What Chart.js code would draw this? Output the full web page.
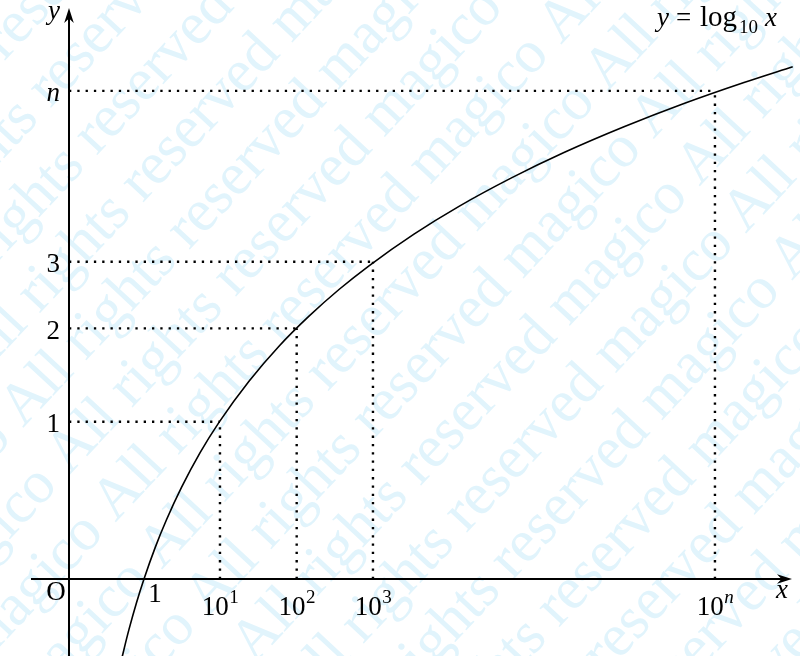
<!DOCTYPE html>
<html><head><meta charset="utf-8">
<script src="https://cdn.jsdelivr.net/npm/chart.js@4.4.1/dist/chart.umd.min.js"></script>
<style>html,body{margin:0;padding:0;background:#fff;}canvas{display:block;}</style>
</head><body>
<canvas id="c" width="800" height="656"></canvas>
<script>
// ---- data (schematic units: x-intercept "1" at x=1) ----
const curveX = [0.70, 0.75, 0.80, 0.90, 1.00, 1.15, 1.30, 1.50, 1.75, 2.00, 2.40, 2.80, 3.20, 3.60, 4.00, 4.60, 5.20, 5.90, 6.60, 7.40, 8.20, 9.00, 9.65];
const curveY = [-0.357, -0.288, -0.223, -0.105, 0.000, 0.140, 0.262, 0.405, 0.560, 0.693, 0.875, 1.030, 1.163, 1.281, 1.386, 1.526, 1.649, 1.775, 1.887, 2.001, 2.104, 2.197, 2.267];
const xTickPos = [2.013, 3.036, 4.053, 8.613];
const xTickBase = ['10', '10', '10', '10'];
const xTickExp = ['1', '2', '3', 'n'];
const yTickPos = [0.696, 1.109, 1.404, 2.160];
const yTickLabels = ['1', '2', '3', 'n'];
const xIntercept = 1;
const xRange = [-0.92, 9.747];
const yRange = [-0.3407, 2.562];

const SERIF = '"Liberation Serif", "DejaVu Serif", serif';

const curvePts = curveX.map((x, i) => ({x, y: curveY[i]}));
const guideSets = [];
xTickPos.forEach((xv, i) => {
  const yv = yTickPos[i];
  guideSets.push({data: [{x: 0, y: yv}, {x: xv, y: yv}]});
  guideSets.push({data: [{x: xv, y: 0}, {x: xv, y: yv}]});
});

const datasets = guideSets.map(g => ({
  data: g.data, borderColor: '#000', borderWidth: 2.4, borderDash: [2.3, 6],
  pointRadius: 0, tension: 0, borderCapStyle: 'butt', fill: false
}));
datasets.push({
  data: curvePts, borderColor: '#000', borderWidth: 1.6, pointRadius: 0,
  cubicInterpolationMode: 'monotone', fill: false
});

function arrow(ctx, x, y, ang) {
  ctx.save();
  ctx.translate(x, y); ctx.rotate(ang);
  ctx.beginPath();
  ctx.moveTo(0, 0);
  ctx.lineTo(-15, -4.8);
  ctx.lineTo(-10.5, 0);
  ctx.lineTo(-15, 4.8);
  ctx.closePath();
  ctx.fillStyle = '#000';
  ctx.fill();
  ctx.restore();
}

const deco = {
  id: 'deco',
  beforeDraw(chart) {
    const ctx = chart.ctx;
    ctx.save();
    ctx.fillStyle = '#fff';
    ctx.fillRect(0, 0, chart.width, chart.height);
    // watermark
    ctx.fillStyle = '#e1f4fc';
    ctx.font = '60px ' + SERIF;
    ctx.textBaseline = 'alphabetic';
    ctx.rotate(-47 * Math.PI / 180);
    const unit = 'All rights reserved magico ';
    const period = ctx.measureText(unit).width;
    const pre = ctx.measureText('All rights reserved ').width;
    for (let k = -11; k <= 9; k++) {
      const b = 573 + 66 * k;
      let a = 152 - 3 * k - pre;
      while (a > -800) a -= period;
      for (; a < 800; a += period) ctx.fillText(unit, a, b);
    }
    ctx.restore();
  },
  beforeDatasetsDraw(chart) {
    const ctx = chart.ctx, xs = chart.scales.x, ys = chart.scales.y;
    const x0 = xs.getPixelForValue(0), y0 = ys.getPixelForValue(0);
    ctx.save();
    ctx.strokeStyle = '#000';
    ctx.lineWidth = 2;
    ctx.beginPath();
    ctx.moveTo(31, y0); ctx.lineTo(782, y0);
    ctx.moveTo(x0, chart.height); ctx.lineTo(x0, 18);
    ctx.stroke();
    arrow(ctx, 792, y0, 0);
    arrow(ctx, x0, 8, -Math.PI / 2);
    ctx.restore();
  },
  afterDatasetsDraw(chart) {
    const ctx = chart.ctx, xs = chart.scales.x, ys = chart.scales.y;
    const x0 = xs.getPixelForValue(0), y0 = ys.getPixelForValue(0);
    const roman = '27px ' + SERIF, ital = 'italic 27px ' + SERIF;
    const sup = '19px ' + SERIF, supI = 'italic 19px ' + SERIF;
    ctx.save();
    ctx.fillStyle = '#000';
    ctx.textBaseline = 'alphabetic';
    // y tick labels
    ctx.textAlign = 'right';
    yTickPos.forEach((v, i) => {
      const lab = yTickLabels[i];
      ctx.font = /[a-z]/.test(lab) ? ital : roman;
      ctx.fillText(lab, x0 - 9, ys.getPixelForValue(v) + 10.5);
    });
    // x tick labels with superscripts
    ctx.textAlign = 'left';
    xTickPos.forEach((v, i) => {
      ctx.font = roman;
      const wb = ctx.measureText(xTickBase[i]).width;
      const e = xTickExp[i];
      ctx.font = /[a-z]/.test(e) ? supI : sup;
      const we = ctx.measureText(e).width;
      const left = xs.getPixelForValue(v) - (wb + we) / 2;
      ctx.font = roman;
      ctx.fillText(xTickBase[i], left, y0 + 36);
      ctx.font = /[a-z]/.test(e) ? supI : sup;
      ctx.fillText(e, left + wb + 0.5, y0 + 24);
    });
    // intercept "1", origin "O", axis names
    ctx.textAlign = 'center';
    ctx.font = roman;
    ctx.fillText('1', xs.getPixelForValue(xIntercept) + 11, y0 + 23);
    ctx.fillText('O', x0 - 13, y0 + 21);
    ctx.font = ital;
    ctx.fillText('x', chart.chartArea.right - 18, y0 + 19);
    ctx.textAlign = 'left';
    ctx.fillText('y', x0 - 21, 19);
    // function label  y = log10 x
    ctx.fillText('y', 657, 26);
    ctx.font = roman;
    ctx.fillText('=', 676, 26);
    ctx.font = '29px ' + SERIF;
    ctx.fillText('log', 700, 26);
    ctx.font = sup;
    ctx.fillText('10', 739, 33);
    ctx.font = ital;
    ctx.fillText('x', 765, 26);
    ctx.restore();
  }
};

new Chart(document.getElementById('c'), {
  type: 'line',
  data: {datasets},
  options: {
    responsive: false, animation: false, devicePixelRatio: 1,
    layout: {padding: 0},
    scales: {
      x: {type: 'linear', min: xRange[0], max: xRange[1], display: false},
      y: {type: 'linear', min: yRange[0], max: yRange[1], display: false}
    },
    plugins: {legend: {display: false}, tooltip: {enabled: false}},
    elements: {line: {borderJoinStyle: 'round'}}
  },
  plugins: [deco]
});
</script>
</body></html>
